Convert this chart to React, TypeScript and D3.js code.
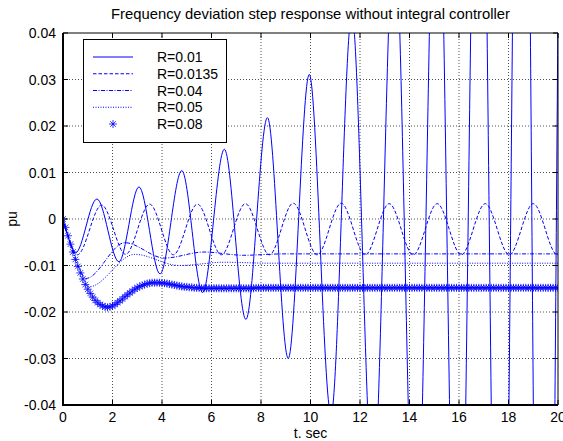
import React from "react";
import * as d3 from "d3";

// ---------- axis ticks ----------
const X_TICKS = [0, 2, 4, 6, 8, 10, 12, 14, 16, 18, 20];
const X_TICK_LABELS = ["0", "2", "4", "6", "8", "10", "12", "14", "16", "18", "20"];
const Y_TICKS = [-0.04, -0.03, -0.02, -0.01, 0, 0.01, 0.02, 0.03, 0.04];
const Y_TICK_LABELS = ["-0.04", "-0.03", "-0.02", "-0.01", "0", "0.01", "0.02", "0.03", "0.04"];

// ---------- series (values outside the axes estimated) ----------
// R = 0.01 (solid, growing oscillation)
const T_R001 = [0, 0.1, 0.2, 0.3, 0.4, 0.5, 1.37, 2.26, 3.07, 3.92, 4.8, 5.64, 6.52, 7.39, 8.26, 9.1, 9.95, 10.83,
  11.67, 12.53, 13.39, 14.25, 15.11, 15.96, 16.82, 17.68, 18.54, 19.4, 20.26];
const V_R001 = [0, -0.0019, -0.0036, -0.0052, -0.0065, -0.0073, 0.0043, -0.0092, 0.0069, -0.0118, 0.0104, -0.0158,
  0.015, -0.0216, 0.0218, -0.03, 0.0311, -0.042, 0.044, -0.0575, 0.063, -0.08, 0.089, -0.111, 0.125, -0.154,
  0.178, -0.213, 0.25];

// R = 0.0135 (dashed, sustained oscillation)
const T_R0135 = [0, 0.1, 0.2, 0.3, 0.4, 0.58, 1.56, 2.53, 3.5, 4.46, 5.43, 6.4, 7.37, 8.34, 9.3, 10.27, 11.24,
  12.21, 13.18, 14.15, 15.12, 16.09, 17.06, 18.03, 19.0, 19.97, 20.94];
const V_R0135 = [0, -0.0019, -0.0037, -0.0053, -0.0066, -0.0077, 0.003, -0.0076, 0.0032, -0.0077, 0.0032, -0.0077,
  0.0033, -0.0077, 0.0034, -0.0077, 0.0034, -0.0077, 0.0033, -0.0077, 0.0033, -0.0077, 0.0033, -0.0077, 0.0033,
  -0.0077, 0.0033];

// R = 0.04 (dash-dot)
const T_R004 = [0, 0.1, 0.2, 0.35, 0.5, 0.7, 0.92, 2.5, 4.1, 5.7, 7.3, 8.9, 10, 12, 14, 16, 18, 20];
const V_R004 = [0, -0.0019, -0.0037, -0.0062, -0.0085, -0.0111, -0.0128, -0.0051, -0.0084, -0.0071, -0.0078,
  -0.0075, -0.0075, -0.0075, -0.0075, -0.0075, -0.0075, -0.0075];

// R = 0.05 (dotted)
const T_R005 = [0, 0.1, 0.2, 0.35, 0.5, 0.7, 0.85, 1.05, 2.9, 4.7, 6.5, 8.3, 10, 12, 14, 16, 18, 20];
const V_R005 = [0, -0.0019, -0.0037, -0.0062, -0.0086, -0.0115, -0.0133, -0.0146, -0.0076, -0.01, -0.0093,
  -0.0095, -0.0095, -0.0095, -0.0095, -0.0095, -0.0095, -0.0095];

// R = 0.08 (star markers, sample every 0.1 s from 0 to 20 s)
const R008_STEP = 0.1;
const V_R008 = [
  0, -0.0018, -0.0036, -0.0054, -0.0071, -0.0087, -0.0102, -0.0116, -0.0129, -0.0141,
  -0.0151, -0.016, -0.0168, -0.0175, -0.018, -0.0184, -0.0187, -0.0189, -0.019, -0.0189,
  -0.0187, -0.0184, -0.018, -0.0176, -0.0172, -0.0167, -0.0163, -0.0159, -0.0155, -0.0151,
  -0.0148, -0.0145, -0.0143, -0.0141, -0.0139, -0.0138, -0.0137, -0.0137, -0.0137, -0.0137,
  -0.0138, -0.0138, -0.0139, -0.014, -0.0141, -0.0142, -0.0143, -0.0144, -0.0145, -0.0146,
  -0.0146, -0.0147, -0.0147, -0.0148, -0.0148, -0.0148, -0.0149, -0.0149, -0.0149, -0.0149,
  -0.0149, -0.0149, -0.0149, -0.0149, -0.0149, -0.0149, -0.0149, -0.0149, -0.0149, -0.0149,
  -0.0149, -0.0149, -0.0149, -0.0149, -0.0149, -0.0149, -0.0149, -0.0149, -0.0148, -0.0148,
  -0.0148, -0.0148, -0.0148, -0.0148, -0.0148, -0.0148, -0.0148, -0.0148, -0.0148, -0.0148,
  -0.0148, -0.0148, -0.0148, -0.0148, -0.0148, -0.0148, -0.0148, -0.0148, -0.0148, -0.0148,
  -0.0148, -0.0148, -0.0148, -0.0148, -0.0148, -0.0148, -0.0148, -0.0148, -0.0148, -0.0148,
  -0.0148, -0.0148, -0.0148, -0.0148, -0.0148, -0.0148, -0.0148, -0.0148, -0.0148, -0.0148,
  -0.0148, -0.0148, -0.0148, -0.0148, -0.0148, -0.0148, -0.0148, -0.0148, -0.0148, -0.0148,
  -0.0148, -0.0148, -0.0148, -0.0148, -0.0148, -0.0148, -0.0148, -0.0148, -0.0148, -0.0148,
  -0.0148, -0.0148, -0.0148, -0.0148, -0.0148, -0.0148, -0.0148, -0.0148, -0.0148, -0.0148,
  -0.0148, -0.0148, -0.0148, -0.0148, -0.0148, -0.0148, -0.0148, -0.0148, -0.0148, -0.0148,
  -0.0148, -0.0148, -0.0148, -0.0148, -0.0148, -0.0148, -0.0148, -0.0148, -0.0148, -0.0148,
  -0.0148, -0.0148, -0.0148, -0.0148, -0.0148, -0.0148, -0.0148, -0.0148, -0.0148, -0.0148,
  -0.0148, -0.0148, -0.0148, -0.0148, -0.0148, -0.0148, -0.0148, -0.0148, -0.0148, -0.0148,
  -0.0148, -0.0148, -0.0148, -0.0148, -0.0148, -0.0148, -0.0148, -0.0148, -0.0148, -0.0148,
  -0.0148,
];

const LEGEND_LABELS = ["R=0.01", "R=0.0135", "R=0.04", "R=0.05", "R=0.08"];

const TITLE = "Frequency deviation step response without integral controller";
const X_LABEL = "t. sec";
const Y_LABEL = "pu";

const BLUE = "#0000ff";
const FONT = "'Liberation Sans', Arial, Helvetica, sans-serif";
const STAR = "M-4,0H4M0,-4V4M-2.8,-2.8L2.8,2.8M-2.8,2.8L2.8,-2.8";

export default function App() {
  const W = 563;
  const H = 441;
  const L = 63, R = 558, T = 33, B = 405;
  const x = d3.scaleLinear().domain([0, 20]).range([L, R]);
  const y = d3.scaleLinear().domain([-0.04, 0.04]).range([B, T]);

  const line = d3
    .line<[number, number]>()
    .x((d) => x(d[0]))
    .y((d) => y(d[1]))
    .curve(d3.curveMonotoneX);

  const zip = (ts: number[], vs: number[]) => ts.map((t, i) => [t, vs[i]] as [number, number]);

  const series = [
    { d: zip(T_R001, V_R001), dash: undefined as string | undefined },
    { d: zip(T_R0135, V_R0135), dash: "3.5 2" },
    { d: zip(T_R004, V_R004), dash: "4 1.5 1 1.5" },
    { d: zip(T_R005, V_R005), dash: "1 1.5" },
  ];
  const starPts = V_R008.map((v, i) => [i * R008_STEP, v] as [number, number]);

  const legendX = 83.5, legendY = 39.5, legendW = 143, legendH = 103;
  const entryY = (i: number) => 57 + i * 16.75;

  return (
    <svg
      width={W}
      height={H}
      style={{ position: "absolute", left: 0, top: 0, background: "#fff" }}
      fontFamily={FONT}
    >
      <rect x={0} y={0} width={W} height={H} fill="#fff" />
      <defs>
        <clipPath id="plotclip">
          <rect x={L} y={T} width={R - L} height={B - T} />
        </clipPath>
      </defs>

      {/* grid */}
      {X_TICKS.slice(1, -1).map((t) => (
        <line key={"gx" + t} x1={x(t)} x2={x(t)} y1={T} y2={B} stroke="#222" strokeWidth={0.8} strokeDasharray="1 2" />
      ))}
      {Y_TICKS.slice(1, -1).map((v) => (
        <line key={"gy" + v} x1={L} x2={R} y1={y(v)} y2={y(v)} stroke="#222" strokeWidth={0.8} strokeDasharray="1 2" />
      ))}

      {/* data */}
      <g clipPath="url(#plotclip)">
        {series.map((s, i) => (
          <path key={i} d={line(s.d) || ""} fill="none" stroke={BLUE} strokeWidth={1} strokeDasharray={s.dash} />
        ))}
        {starPts.map((p, i) => (
          <path key={"s" + i} d={STAR} transform={`translate(${x(p[0])},${y(p[1])})`} fill="none" stroke={BLUE} strokeWidth={0.8} />
        ))}
      </g>

      {/* ticks */}
      {X_TICKS.map((t) => (
        <g key={"tx" + t}>
          <line x1={x(t)} x2={x(t)} y1={B} y2={B - 5} stroke="#000" />
          <line x1={x(t)} x2={x(t)} y1={T} y2={T + 5} stroke="#000" />
        </g>
      ))}
      {Y_TICKS.map((v) => (
        <g key={"ty" + v}>
          <line x1={L} x2={L + 5} y1={y(v)} y2={y(v)} stroke="#000" />
          <line x1={R} x2={R - 5} y1={y(v)} y2={y(v)} stroke="#000" />
        </g>
      ))}

      {/* box */}
      <line x1={L} x2={R} y1={T} y2={T} stroke="#000" strokeWidth={1} />
      <line x1={R} x2={R} y1={T} y2={B} stroke="#000" strokeWidth={1} />
      <line x1={L} x2={L} y1={T} y2={B} stroke="#000" strokeWidth={2} />
      <line x1={L - 1} x2={R} y1={B} y2={B} stroke="#000" strokeWidth={2} />

      {/* tick labels */}
      {X_TICKS.map((t, i) => (
        <text key={"lx" + t} x={x(t)} y={422} textAnchor="middle" fontSize={14} fill="#000">
          {X_TICK_LABELS[i]}
        </text>
      ))}
      {Y_TICKS.map((v, i) => (
        <text key={"ly" + v} x={56} y={y(v) + 5} textAnchor="end" fontSize={14} fill="#000">
          {Y_TICK_LABELS[i]}
        </text>
      ))}

      {/* labels */}
      <text x={(L + R) / 2} y={19} textAnchor="middle" fontSize={14.8} fill="#000">{TITLE}</text>
      <text x={(L + R) / 2} y={438} textAnchor="middle" fontSize={14} fill="#000">{X_LABEL}</text>
      <text transform={`translate(17,${(T + B) / 2}) rotate(-90)`} textAnchor="middle" fontSize={14} fill="#000">{Y_LABEL}</text>

      {/* legend */}
      <rect x={legendX} y={legendY} width={legendW} height={legendH} fill="#fff" stroke="#000" strokeWidth={1} />
      {LEGEND_LABELS.map((lab, i) => (
        <g key={lab}>
          {i < 4 ? (
            <line x1={93} x2={133} y1={entryY(i)} y2={entryY(i)} stroke={BLUE} strokeWidth={1} strokeDasharray={series[i].dash} />
          ) : (
            <path d={STAR} transform={`translate(113,${entryY(i)})`} fill="none" stroke={BLUE} strokeWidth={0.8} />
          )}
          <text x={157} y={entryY(i) + 5} fontSize={14} fill="#000">{lab}</text>
        </g>
      ))}
    </svg>
  );
}
